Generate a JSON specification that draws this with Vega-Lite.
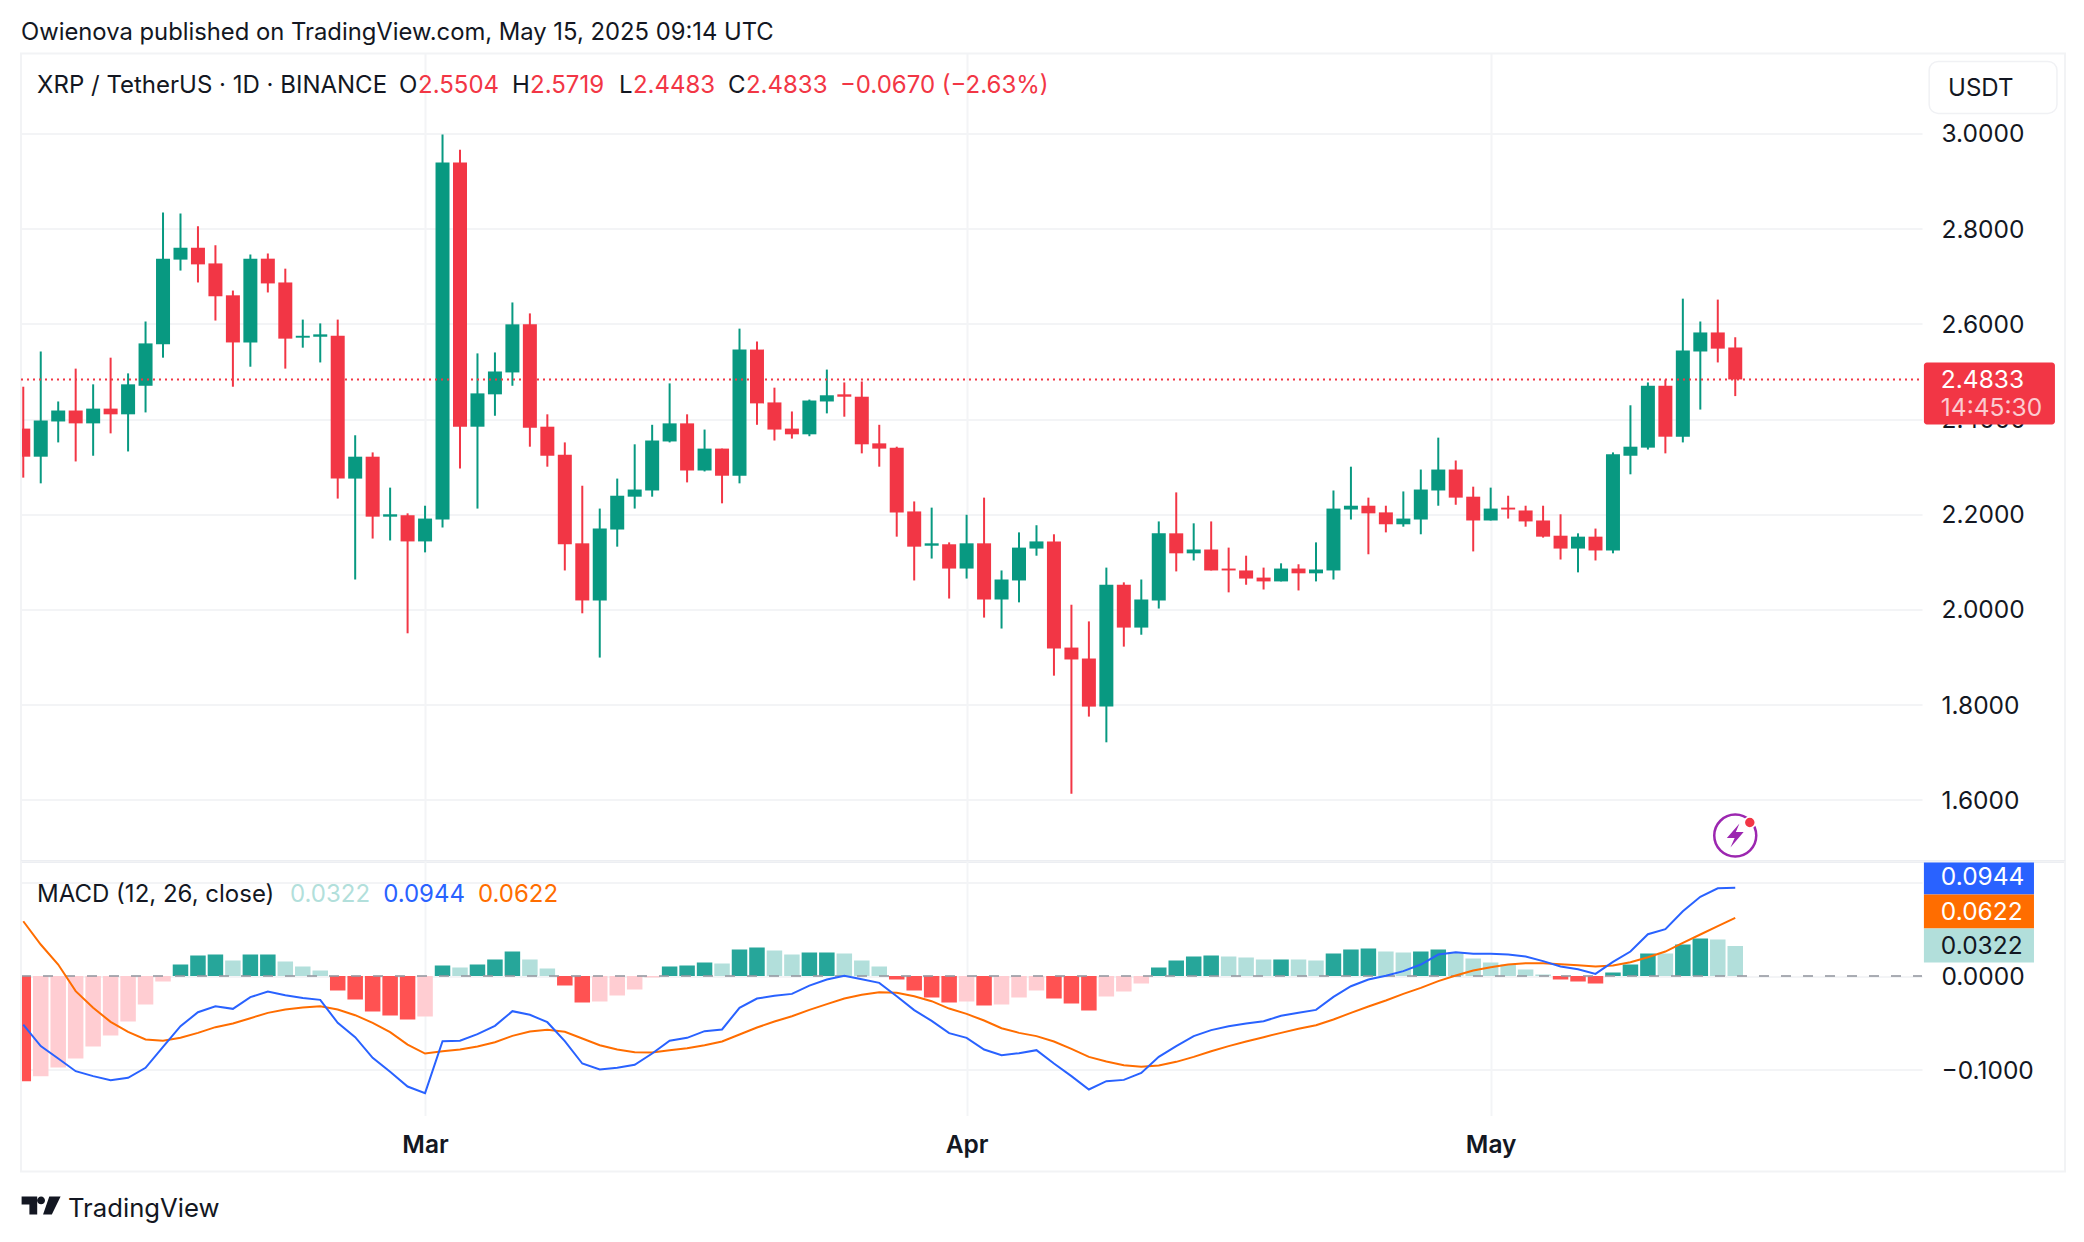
{"$schema":"https://vega.github.io/schema/vega-lite/v6.json","background":"white","padding":{"left":19,"top":20.5,"right":0,"bottom":0},"spacing":0,"bounds":"flush",
"config":{"font":"Inter","view":{"stroke":null},"text":{"align":"left","baseline":"middle","fontSize":24,"dy":1.5,"color":"#131722"}},
"datasets":{"d":[
{"date":"2025-02-06","open":2.380,"high":2.468,"low":2.277,"close":2.321,"macd":-0.0519,"signal":0.0586,"hist":-0.1125,"state":"sn"},
{"date":"2025-02-07","open":2.321,"high":2.542,"low":2.265,"close":2.397,"macd":-0.0750,"signal":0.0337,"hist":-0.1071,"state":"wn"},
{"date":"2025-02-08","open":2.395,"high":2.437,"low":2.351,"close":2.418,"macd":-0.0882,"signal":0.0123,"hist":-0.0979,"state":"wn"},
{"date":"2025-02-09","open":2.418,"high":2.506,"low":2.311,"close":2.391,"macd":-0.1018,"signal":-0.0162,"hist":-0.0882,"state":"wn"},
{"date":"2025-02-10","open":2.391,"high":2.473,"low":2.323,"close":2.422,"macd":-0.1071,"signal":-0.0340,"hist":-0.0754,"state":"wn"},
{"date":"2025-02-11","open":2.422,"high":2.529,"low":2.370,"close":2.410,"macd":-0.1114,"signal":-0.0490,"hist":-0.0636,"state":"wn"},
{"date":"2025-02-12","open":2.410,"high":2.496,"low":2.332,"close":2.473,"macd":-0.1089,"signal":-0.0597,"hist":-0.0487,"state":"wn"},
{"date":"2025-02-13","open":2.470,"high":2.605,"low":2.414,"close":2.559,"macd":-0.0982,"signal":-0.0679,"hist":-0.0305,"state":"wn"},
{"date":"2025-02-14","open":2.557,"high":2.834,"low":2.529,"close":2.737,"macd":-0.0758,"signal":-0.0693,"hist":-0.0059,"state":"wn"},
{"date":"2025-02-15","open":2.735,"high":2.832,"low":2.712,"close":2.760,"macd":-0.0537,"signal":-0.0661,"hist":0.0123,"state":"sp"},
{"date":"2025-02-16","open":2.760,"high":2.805,"low":2.687,"close":2.725,"macd":-0.0387,"signal":-0.0608,"hist":0.0219,"state":"sp"},
{"date":"2025-02-17","open":2.727,"high":2.765,"low":2.607,"close":2.658,"macd":-0.0323,"signal":-0.0547,"hist":0.0230,"state":"sp"},
{"date":"2025-02-18","open":2.660,"high":2.670,"low":2.468,"close":2.561,"macd":-0.0351,"signal":-0.0508,"hist":0.0166,"state":"wp"},
{"date":"2025-02-19","open":2.561,"high":2.746,"low":2.510,"close":2.737,"macd":-0.0226,"signal":-0.0451,"hist":0.0230,"state":"sp"},
{"date":"2025-02-20","open":2.737,"high":2.748,"low":2.666,"close":2.685,"macd":-0.0166,"signal":-0.0394,"hist":0.0230,"state":"sp"},
{"date":"2025-02-21","open":2.687,"high":2.716,"low":2.506,"close":2.569,"macd":-0.0205,"signal":-0.0358,"hist":0.0155,"state":"wp"},
{"date":"2025-02-22","open":2.571,"high":2.609,"low":2.550,"close":2.575,"macd":-0.0234,"signal":-0.0337,"hist":0.0102,"state":"wp"},
{"date":"2025-02-23","open":2.573,"high":2.601,"low":2.519,"close":2.578,"macd":-0.0255,"signal":-0.0323,"hist":0.0059,"state":"wp"},
{"date":"2025-02-24","open":2.575,"high":2.609,"low":2.233,"close":2.275,"macd":-0.0501,"signal":-0.0358,"hist":-0.0155,"state":"sn"},
{"date":"2025-02-25","open":2.275,"high":2.366,"low":2.063,"close":2.321,"macd":-0.0654,"signal":-0.0419,"hist":-0.0251,"state":"sn"},
{"date":"2025-02-26","open":2.321,"high":2.330,"low":2.149,"close":2.195,"macd":-0.0875,"signal":-0.0501,"hist":-0.0380,"state":"sn"},
{"date":"2025-02-27","open":2.195,"high":2.256,"low":2.145,"close":2.200,"macd":-0.1025,"signal":-0.0601,"hist":-0.0422,"state":"sn"},
{"date":"2025-02-28","open":2.198,"high":2.202,"low":1.950,"close":2.143,"macd":-0.1182,"signal":-0.0733,"hist":-0.0465,"state":"sn"},
{"date":"2025-03-01","open":2.143,"high":2.218,"low":2.120,"close":2.191,"macd":-0.1253,"signal":-0.0829,"hist":-0.0433,"state":"wn"},
{"date":"2025-03-02","open":2.189,"high":2.998,"low":2.172,"close":2.939,"macd":-0.0697,"signal":-0.0804,"hist":0.0112,"state":"sp"},
{"date":"2025-03-03","open":2.939,"high":2.966,"low":2.296,"close":2.384,"macd":-0.0693,"signal":-0.0786,"hist":0.0091,"state":"wp"},
{"date":"2025-03-04","open":2.384,"high":2.538,"low":2.212,"close":2.454,"macd":-0.0622,"signal":-0.0754,"hist":0.0123,"state":"sp"},
{"date":"2025-03-05","open":2.452,"high":2.540,"low":2.407,"close":2.500,"macd":-0.0533,"signal":-0.0708,"hist":0.0176,"state":"sp"},
{"date":"2025-03-06","open":2.498,"high":2.645,"low":2.470,"close":2.599,"macd":-0.0376,"signal":-0.0640,"hist":0.0262,"state":"sp"},
{"date":"2025-03-07","open":2.599,"high":2.622,"low":2.342,"close":2.382,"macd":-0.0415,"signal":-0.0594,"hist":0.0176,"state":"wp"},
{"date":"2025-03-08","open":2.384,"high":2.410,"low":2.300,"close":2.323,"macd":-0.0494,"signal":-0.0576,"hist":0.0080,"state":"wp"},
{"date":"2025-03-09","open":2.325,"high":2.351,"low":2.082,"close":2.137,"macd":-0.0697,"signal":-0.0597,"hist":-0.0102,"state":"sn"},
{"date":"2025-03-10","open":2.139,"high":2.260,"low":1.992,"close":2.019,"macd":-0.0936,"signal":-0.0668,"hist":-0.0283,"state":"sn"},
{"date":"2025-03-11","open":2.019,"high":2.212,"low":1.899,"close":2.170,"macd":-0.1000,"signal":-0.0740,"hist":-0.0273,"state":"wn"},
{"date":"2025-03-12","open":2.168,"high":2.275,"low":2.132,"close":2.239,"macd":-0.0982,"signal":-0.0786,"hist":-0.0209,"state":"wn"},
{"date":"2025-03-13","open":2.237,"high":2.347,"low":2.212,"close":2.252,"macd":-0.0950,"signal":-0.0815,"hist":-0.0144,"state":"wn"},
{"date":"2025-03-14","open":2.250,"high":2.388,"low":2.237,"close":2.355,"macd":-0.0829,"signal":-0.0818,"hist":-0.0016,"state":"wn"},
{"date":"2025-03-15","open":2.353,"high":2.475,"low":2.351,"close":2.391,"macd":-0.0693,"signal":-0.0793,"hist":0.0102,"state":"sp"},
{"date":"2025-03-16","open":2.391,"high":2.410,"low":2.267,"close":2.292,"macd":-0.0661,"signal":-0.0772,"hist":0.0112,"state":"sp"},
{"date":"2025-03-17","open":2.292,"high":2.378,"low":2.290,"close":2.338,"macd":-0.0590,"signal":-0.0740,"hist":0.0144,"state":"sp"},
{"date":"2025-03-18","open":2.338,"high":2.338,"low":2.223,"close":2.281,"macd":-0.0572,"signal":-0.0701,"hist":0.0134,"state":"wp"},
{"date":"2025-03-19","open":2.281,"high":2.590,"low":2.265,"close":2.546,"macd":-0.0340,"signal":-0.0626,"hist":0.0283,"state":"sp"},
{"date":"2025-03-20","open":2.546,"high":2.563,"low":2.388,"close":2.433,"macd":-0.0241,"signal":-0.0551,"hist":0.0305,"state":"sp"},
{"date":"2025-03-21","open":2.435,"high":2.466,"low":2.355,"close":2.378,"macd":-0.0212,"signal":-0.0487,"hist":0.0273,"state":"wp"},
{"date":"2025-03-22","open":2.380,"high":2.416,"low":2.359,"close":2.368,"macd":-0.0191,"signal":-0.0430,"hist":0.0230,"state":"wp"},
{"date":"2025-03-23","open":2.368,"high":2.441,"low":2.364,"close":2.439,"macd":-0.0102,"signal":-0.0362,"hist":0.0251,"state":"sp"},
{"date":"2025-03-24","open":2.437,"high":2.504,"low":2.412,"close":2.450,"macd":-0.0037,"signal":-0.0301,"hist":0.0251,"state":"sp"},
{"date":"2025-03-25","open":2.452,"high":2.477,"low":2.405,"close":2.447,"macd":0.0002,"signal":-0.0241,"hist":0.0241,"state":"wp"},
{"date":"2025-03-26","open":2.447,"high":2.479,"low":2.328,"close":2.347,"macd":-0.0034,"signal":-0.0201,"hist":0.0166,"state":"wp"},
{"date":"2025-03-27","open":2.349,"high":2.388,"low":2.300,"close":2.338,"macd":-0.0073,"signal":-0.0173,"hist":0.0102,"state":"wp"},
{"date":"2025-03-28","open":2.340,"high":2.342,"low":2.153,"close":2.204,"macd":-0.0216,"signal":-0.0180,"hist":-0.0037,"state":"sn"},
{"date":"2025-03-29","open":2.206,"high":2.227,"low":2.061,"close":2.132,"macd":-0.0365,"signal":-0.0216,"hist":-0.0155,"state":"sn"},
{"date":"2025-03-30","open":2.134,"high":2.214,"low":2.107,"close":2.139,"macd":-0.0480,"signal":-0.0269,"hist":-0.0230,"state":"sn"},
{"date":"2025-03-31","open":2.137,"high":2.141,"low":2.023,"close":2.086,"macd":-0.0611,"signal":-0.0348,"hist":-0.0283,"state":"sn"},
{"date":"2025-04-01","open":2.086,"high":2.199,"low":2.065,"close":2.139,"macd":-0.0661,"signal":-0.0405,"hist":-0.0273,"state":"wn"},
{"date":"2025-04-02","open":2.139,"high":2.235,"low":1.983,"close":2.021,"macd":-0.0786,"signal":-0.0476,"hist":-0.0316,"state":"sn"},
{"date":"2025-04-03","open":2.021,"high":2.082,"low":1.960,"close":2.063,"macd":-0.0847,"signal":-0.0558,"hist":-0.0305,"state":"wn"},
{"date":"2025-04-04","open":2.061,"high":2.162,"low":2.015,"close":2.130,"macd":-0.0825,"signal":-0.0608,"hist":-0.0230,"state":"wn"},
{"date":"2025-04-05","open":2.128,"high":2.177,"low":2.113,"close":2.143,"macd":-0.0793,"signal":-0.0643,"hist":-0.0155,"state":"wn"},
{"date":"2025-04-06","open":2.143,"high":2.158,"low":1.861,"close":1.918,"macd":-0.0936,"signal":-0.0701,"hist":-0.0241,"state":"sn"},
{"date":"2025-04-07","open":1.920,"high":2.010,"low":1.613,"close":1.895,"macd":-0.1071,"signal":-0.0779,"hist":-0.0294,"state":"sn"},
{"date":"2025-04-08","open":1.897,"high":1.975,"low":1.775,"close":1.796,"macd":-0.1214,"signal":-0.0865,"hist":-0.0369,"state":"sn"},
{"date":"2025-04-09","open":1.796,"high":2.088,"low":1.721,"close":2.052,"macd":-0.1125,"signal":-0.0914,"hist":-0.0219,"state":"wn"},
{"date":"2025-04-10","open":2.052,"high":2.057,"low":1.922,"close":1.962,"macd":-0.1111,"signal":-0.0954,"hist":-0.0166,"state":"wn"},
{"date":"2025-04-11","open":1.962,"high":2.063,"low":1.947,"close":2.021,"macd":-0.1036,"signal":-0.0971,"hist":-0.0080,"state":"wn"},
{"date":"2025-04-12","open":2.019,"high":2.185,"low":2.002,"close":2.160,"macd":-0.0865,"signal":-0.0957,"hist":0.0091,"state":"sp"},
{"date":"2025-04-13","open":2.160,"high":2.246,"low":2.080,"close":2.118,"macd":-0.0750,"signal":-0.0918,"hist":0.0166,"state":"sp"},
{"date":"2025-04-14","open":2.118,"high":2.181,"low":2.103,"close":2.126,"macd":-0.0643,"signal":-0.0865,"hist":0.0209,"state":"sp"},
{"date":"2025-04-15","open":2.126,"high":2.185,"low":2.082,"close":2.082,"macd":-0.0579,"signal":-0.0804,"hist":0.0219,"state":"sp"},
{"date":"2025-04-16","open":2.086,"high":2.130,"low":2.036,"close":2.082,"macd":-0.0537,"signal":-0.0750,"hist":0.0209,"state":"wp"},
{"date":"2025-04-17","open":2.082,"high":2.113,"low":2.052,"close":2.065,"macd":-0.0508,"signal":-0.0701,"hist":0.0198,"state":"wp"},
{"date":"2025-04-18","open":2.067,"high":2.088,"low":2.042,"close":2.059,"macd":-0.0483,"signal":-0.0654,"hist":0.0176,"state":"wp"},
{"date":"2025-04-19","open":2.059,"high":2.097,"low":2.059,"close":2.086,"macd":-0.0426,"signal":-0.0608,"hist":0.0176,"state":"sp"},
{"date":"2025-04-20","open":2.086,"high":2.095,"low":2.040,"close":2.076,"macd":-0.0394,"signal":-0.0565,"hist":0.0176,"state":"wp"},
{"date":"2025-04-21","open":2.076,"high":2.141,"low":2.059,"close":2.084,"macd":-0.0362,"signal":-0.0526,"hist":0.0166,"state":"wp"},
{"date":"2025-04-22","open":2.082,"high":2.250,"low":2.063,"close":2.212,"macd":-0.0223,"signal":-0.0465,"hist":0.0241,"state":"sp"},
{"date":"2025-04-23","open":2.210,"high":2.300,"low":2.189,"close":2.218,"macd":-0.0109,"signal":-0.0394,"hist":0.0283,"state":"sp"},
{"date":"2025-04-24","open":2.218,"high":2.235,"low":2.116,"close":2.202,"macd":-0.0037,"signal":-0.0326,"hist":0.0294,"state":"sp"},
{"date":"2025-04-25","open":2.204,"high":2.218,"low":2.162,"close":2.179,"macd":0.0002,"signal":-0.0262,"hist":0.0262,"state":"wp"},
{"date":"2025-04-26","open":2.179,"high":2.248,"low":2.174,"close":2.191,"macd":0.0052,"signal":-0.0191,"hist":0.0251,"state":"wp"},
{"date":"2025-04-27","open":2.189,"high":2.294,"low":2.158,"close":2.252,"macd":0.0123,"signal":-0.0127,"hist":0.0262,"state":"sp"},
{"date":"2025-04-28","open":2.250,"high":2.361,"low":2.218,"close":2.294,"macd":0.0230,"signal":-0.0055,"hist":0.0283,"state":"sp"},
{"date":"2025-04-29","open":2.294,"high":2.313,"low":2.220,"close":2.235,"macd":0.0255,"signal":0.0005,"hist":0.0258,"state":"wp"},
{"date":"2025-04-30","open":2.237,"high":2.258,"low":2.122,"close":2.187,"macd":0.0237,"signal":0.0059,"hist":0.0187,"state":"wp"},
{"date":"2025-05-01","open":2.187,"high":2.256,"low":2.187,"close":2.212,"macd":0.0237,"signal":0.0094,"hist":0.0144,"state":"wp"},
{"date":"2025-05-02","open":2.214,"high":2.239,"low":2.191,"close":2.210,"macd":0.0230,"signal":0.0123,"hist":0.0123,"state":"wp"},
{"date":"2025-05-03","open":2.208,"high":2.218,"low":2.174,"close":2.185,"macd":0.0209,"signal":0.0137,"hist":0.0070,"state":"wp"},
{"date":"2025-05-04","open":2.187,"high":2.218,"low":2.151,"close":2.153,"macd":0.0159,"signal":0.0137,"hist":0.0016,"state":"wp"},
{"date":"2025-05-05","open":2.155,"high":2.200,"low":2.105,"close":2.128,"macd":0.0102,"signal":0.0127,"hist":-0.0037,"state":"sn"},
{"date":"2025-05-06","open":2.128,"high":2.160,"low":2.078,"close":2.153,"macd":0.0073,"signal":0.0116,"hist":-0.0059,"state":"sn"},
{"date":"2025-05-07","open":2.153,"high":2.170,"low":2.103,"close":2.124,"macd":0.0023,"signal":0.0102,"hist":-0.0080,"state":"sn"},
{"date":"2025-05-08","open":2.124,"high":2.330,"low":2.118,"close":2.326,"macd":0.0152,"signal":0.0112,"hist":0.0037,"state":"sp"},
{"date":"2025-05-09","open":2.323,"high":2.429,"low":2.284,"close":2.342,"macd":0.0262,"signal":0.0148,"hist":0.0123,"state":"sp"},
{"date":"2025-05-10","open":2.340,"high":2.477,"low":2.336,"close":2.470,"macd":0.0447,"signal":0.0201,"hist":0.0241,"state":"sp"},
{"date":"2025-05-11","open":2.470,"high":2.483,"low":2.328,"close":2.363,"macd":0.0501,"signal":0.0262,"hist":0.0241,"state":"wp"},
{"date":"2025-05-12","open":2.363,"high":2.653,"low":2.351,"close":2.544,"macd":0.0693,"signal":0.0355,"hist":0.0337,"state":"sp"},
{"date":"2025-05-13","open":2.542,"high":2.605,"low":2.420,"close":2.582,"macd":0.0847,"signal":0.0444,"hist":0.0401,"state":"sp"},
{"date":"2025-05-14","open":2.582,"high":2.651,"low":2.519,"close":2.548,"macd":0.0939,"signal":0.0533,"hist":0.0390,"state":"wp"},
{"date":"2025-05-15","open":2.5504,"high":2.5719,"low":2.4483,"close":2.4833,"macd":0.0944,"signal":0.0622,"hist":0.0322,"state":"wp"}
]},
"vconcat":[
{"width":1901,"height":808,"data":{"name":"d"},"layer":[
{"mark":{"type":"rule","strokeWidth":2,"clip":true},
 "encoding":{"x":{"field":"date","type":"temporal","scale":{"type":"utc","padding":0,"domain":[{"year":2025,"month":2,"date":5,"hours":20,"minutes":53,"utc":true},{"year":2025,"month":5,"date":25,"hours":16,"minutes":34,"utc":true}]},"axis":{"labels":false,"ticks":false,"domain":false,"grid":true,"gridColor":"#F3F4F6","gridWidth":2,"values":[{"year":2025,"month":3,"date":1,"utc":true},{"year":2025,"month":4,"date":1,"utc":true},{"year":2025,"month":5,"date":1,"utc":true}],"title":null}},
 "y":{"field":"low","type":"quantitative","scale":{"domain":[1.4706,3.168],"nice":false,"zero":false},"axis":{"orient":"right","values":[1.6,1.8,2.0,2.2,2.4,2.6,2.8,3.0],"format":".4f","labelFontSize":24.5,"labelOffset":1.5,"labelColor":"#131722","labelPadding":19,"ticks":false,"domain":false,"grid":true,"gridColor":"#F3F4F6","gridWidth":2,"title":null}},
 "y2":{"field":"high"},
 "color":{"condition":{"test":"datum.close>=datum.open","value":"#089981"},"value":"#F23645"}}},
{"mark":{"type":"bar","size":14,"clip":true},
 "encoding":{"x":{"field":"date","type":"temporal"},"y":{"field":"open","type":"quantitative"},"y2":{"field":"close"},
 "color":{"condition":{"test":"datum.close>=datum.open","value":"#089981"},"value":"#F23645"}}},
{"data":{"values":[{"frame":"price"}]},"mark":{"type":"rect","fill":"transparent","stroke":"#F2F3F5","strokeWidth":2},"encoding":{"x":{"datum":{"year":2025,"month":2,"date":5,"hours":20,"minutes":53,"utc":true},"type":"temporal"},"x2":{"datum":{"year":2025,"month":6,"date":2,"hours":21,"minutes":7,"utc":true}},"y":{"datum":3.168,"type":"quantitative"},"y2":{"datum":1.4706}}},
{"data":{"values":[{"line":"separator"}]},"mark":{"type":"rule","stroke":"#E0E3EB","strokeWidth":2.5},"encoding":{"x":{"datum":{"year":2025,"month":2,"date":5,"hours":20,"minutes":53,"utc":true},"type":"temporal"},"x2":{"datum":{"year":2025,"month":6,"date":2,"hours":21,"minutes":7,"utc":true}},"y":{"datum":1.4706,"type":"quantitative"}}},
{"data":{"values":[{"line":"last"}]},"mark":{"type":"rule","stroke":"#F23645","strokeWidth":2,"strokeDash":[2,4]},"encoding":{"x":{"datum":{"year":2025,"month":2,"date":5,"hours":20,"minutes":53,"utc":true},"type":"temporal"},"x2":{"datum":{"year":2025,"month":5,"date":25,"hours":16,"minutes":34,"utc":true}},"y":{"datum":2.4833,"type":"quantitative"}}},
{"data":{"values":[{"box":"last"}]},"mark":{"type":"rect","fill":"#F23645","cornerRadius":3},"encoding":{"x":{"datum":{"year":2025,"month":5,"date":25,"hours":19,"minutes":12,"utc":true},"type":"temporal"},"x2":{"datum":{"year":2025,"month":6,"date":2,"hours":7,"minutes":12,"utc":true}},"y":{"datum":2.519,"type":"quantitative"},"y2":{"datum":2.3886}}},
{"data":{"values":[{"box":"usdt"}]},"mark":{"type":"rect","fill":"white","stroke":"#F0F1F4","strokeWidth":1.5,"cornerRadius":9},"encoding":{"x":{"datum":{"year":2025,"month":5,"date":26,"hours":2,"minutes":24,"utc":true},"type":"temporal"},"x2":{"datum":{"year":2025,"month":6,"date":2,"hours":10,"utc":true}},"y":{"datum":3.1513,"type":"quantitative"},"y2":{"datum":3.042}}},
{"data":{"values":[{"icon":"ring"}]},"mark":{"type":"point","shape":"circle","size":1764,"filled":false,"stroke":"#9C27B0","strokeWidth":2.5,"opacity":1},"encoding":{"x":{"datum":{"year":2025,"month":5,"date":15,"utc":true},"type":"temporal"},"y":{"datum":1.525,"type":"quantitative"}}},
{"data":{"values":[{"icon":"bolt"}]},"mark":{"type":"point","shape":"M0.35,-1 L-0.7,0.2 L-0.05,0.2 L-0.4,1 L0.7,-0.3 L0.05,-0.3 Z","size":576,"filled":true,"fill":"#9C27B0","opacity":1},"encoding":{"x":{"datum":{"year":2025,"month":5,"date":15,"utc":true},"type":"temporal"},"y":{"datum":1.525,"type":"quantitative"}}},
{"data":{"values":[{"icon":"dot"}]},"mark":{"type":"point","shape":"circle","size":120,"filled":true,"fill":"#F23645","stroke":"white","strokeWidth":1.5,"opacity":1},"encoding":{"x":{"datum":{"year":2025,"month":5,"date":15,"hours":20,"utc":true},"type":"temporal"},"y":{"datum":1.5525,"type":"quantitative"}}},
{"data":{"values":[{"t":"Owienova published on TradingView.com, May 15, 2025 09:14 UTC"}]},"mark":{"type":"text","fontSize":23.8},"encoding":{"x":{"datum":{"year":2025,"month":2,"date":5,"hours":20,"minutes":53,"utc":true},"type":"temporal"},"y":{"datum":3.2143,"type":"quantitative"},"text":{"field":"t"}}},
{"data":{"values":[{"t":"XRP / TetherUS · 1D · BINANCE"}]},"mark":{"type":"text"},"encoding":{"x":{"datum":{"year":2025,"month":2,"date":6,"hours":19,"utc":true},"type":"temporal"},"y":{"datum":3.1029,"type":"quantitative"},"text":{"field":"t"}}},
{"data":{"values":[{"t":"O"}]},"mark":{"type":"text"},"encoding":{"x":{"datum":{"year":2025,"month":2,"date":27,"hours":12,"minutes":15,"utc":true},"type":"temporal"},"y":{"datum":3.1029,"type":"quantitative"},"text":{"field":"t"}}},
{"data":{"values":[{"t":"2.5504"}]},"mark":{"type":"text","color":"#F23645"},"encoding":{"x":{"datum":{"year":2025,"month":2,"date":28,"hours":14,"minutes":24,"utc":true},"type":"temporal"},"y":{"datum":3.1029,"type":"quantitative"},"text":{"field":"t"}}},
{"data":{"values":[{"t":"H"}]},"mark":{"type":"text"},"encoding":{"x":{"datum":{"year":2025,"month":3,"date":5,"hours":23,"minutes":30,"utc":true},"type":"temporal"},"y":{"datum":3.1029,"type":"quantitative"},"text":{"field":"t"}}},
{"data":{"values":[{"t":"2.5719"}]},"mark":{"type":"text","color":"#F23645"},"encoding":{"x":{"datum":{"year":2025,"month":3,"date":7,"hours":0,"minutes":15,"utc":true},"type":"temporal"},"y":{"datum":3.1029,"type":"quantitative"},"text":{"field":"t"}}},
{"data":{"values":[{"t":"L"}]},"mark":{"type":"text"},"encoding":{"x":{"datum":{"year":2025,"month":3,"date":12,"hours":2,"minutes":24,"utc":true},"type":"temporal"},"y":{"datum":3.1029,"type":"quantitative"},"text":{"field":"t"}}},
{"data":{"values":[{"t":"2.4483"}]},"mark":{"type":"text","color":"#F23645"},"encoding":{"x":{"datum":{"year":2025,"month":3,"date":12,"hours":21,"minutes":36,"utc":true},"type":"temporal"},"y":{"datum":3.1029,"type":"quantitative"},"text":{"field":"t"}}},
{"data":{"values":[{"t":"C"}]},"mark":{"type":"text"},"encoding":{"x":{"datum":{"year":2025,"month":3,"date":18,"hours":8,"minutes":9,"utc":true},"type":"temporal"},"y":{"datum":3.1029,"type":"quantitative"},"text":{"field":"t"}}},
{"data":{"values":[{"t":"2.4833"}]},"mark":{"type":"text","color":"#F23645"},"encoding":{"x":{"datum":{"year":2025,"month":3,"date":19,"hours":8,"minutes":53,"utc":true},"type":"temporal"},"y":{"datum":3.1029,"type":"quantitative"},"text":{"field":"t"}}},
{"data":{"values":[{"t":"−0.0670 (−2.63%)"}]},"mark":{"type":"text","color":"#F23645"},"encoding":{"x":{"datum":{"year":2025,"month":3,"date":24,"hours":18,"utc":true},"type":"temporal"},"y":{"datum":3.1029,"type":"quantitative"},"text":{"field":"t"}}},
{"data":{"values":[{"t":"USDT"}]},"mark":{"type":"text"},"encoding":{"x":{"datum":{"year":2025,"month":5,"date":27,"hours":4,"minutes":19,"utc":true},"type":"temporal"},"y":{"datum":3.0966,"type":"quantitative"},"text":{"field":"t"}}},
{"data":{"values":[{"t":"2.4833"}]},"mark":{"type":"text","color":"white","fontSize":24.5},"encoding":{"x":{"datum":{"year":2025,"month":5,"date":26,"hours":18,"minutes":29,"utc":true},"type":"temporal"},"y":{"datum":2.4833,"type":"quantitative"},"text":{"field":"t"}}},
{"data":{"values":[{"t":"14:45:30"}]},"mark":{"type":"text","color":"#FBCBD0","fontSize":24.5},"encoding":{"x":{"datum":{"year":2025,"month":5,"date":26,"hours":18,"minutes":29,"utc":true},"type":"temporal"},"y":{"datum":2.424,"type":"quantitative"},"text":{"field":"t"}}}
]},
{"width":1901,"height":254,"data":{"name":"d"},"layer":[
{"mark":{"type":"bar","size":15.5,"clip":true},
 "encoding":{"x":{"field":"date","type":"temporal","scale":{"type":"utc","padding":0,"domain":[{"year":2025,"month":2,"date":5,"hours":20,"minutes":53,"utc":true},{"year":2025,"month":5,"date":25,"hours":16,"minutes":34,"utc":true}]},"axis":{"labelFontSize":24.5,"labelFontWeight":600,"labelColor":"#131722","labelPadding":18,"ticks":false,"domain":false,"grid":true,"gridColor":"#F3F4F6","gridWidth":2,"values":[{"year":2025,"month":3,"date":1,"utc":true},{"year":2025,"month":4,"date":1,"utc":true},{"year":2025,"month":5,"date":1,"utc":true}],"format":"%b","title":null}},
 "y":{"field":"hist","type":"quantitative","scale":{"domain":[-0.1492,0.1225],"nice":false,"zero":false},"axis":{"orient":"right","values":[-0.1,0,0.1],"format":".4f","labelFontSize":24.5,"labelOffset":1.5,"labelColor":"#131722","labelPadding":19,"ticks":false,"domain":false,"grid":true,"gridColor":"#F3F4F6","gridWidth":2,"title":null}},
 "color":{"field":"state","type":"nominal","legend":null,"scale":{"domain":["sp","wp","sn","wn"],"range":["#26A69A","#B2DFDB","#FF5252","#FFCDD2"]}}}},
{"data":{"values":[{"line":"zero"}]},"mark":{"type":"rule","stroke":"#9598A1","strokeWidth":2,"strokeDash":[10,12],"opacity":0.8},"encoding":{"x":{"datum":{"year":2025,"month":2,"date":5,"hours":20,"minutes":53,"utc":true},"type":"temporal"},"x2":{"datum":{"year":2025,"month":5,"date":25,"hours":16,"minutes":34,"utc":true}},"y":{"datum":0,"type":"quantitative"}}},
{"mark":{"type":"line","stroke":"#FF6D00","strokeWidth":2,"clip":true},"encoding":{"x":{"field":"date","type":"temporal"},"y":{"field":"signal","type":"quantitative"}}},
{"mark":{"type":"line","stroke":"#2962FF","strokeWidth":2,"clip":true},"encoding":{"x":{"field":"date","type":"temporal"},"y":{"field":"macd","type":"quantitative"}}},
{"data":{"values":[{"frame":"macd"}]},"mark":{"type":"rect","fill":"transparent","stroke":"#F2F3F5","strokeWidth":2},"encoding":{"x":{"datum":{"year":2025,"month":2,"date":5,"hours":20,"minutes":53,"utc":true},"type":"temporal"},"x2":{"datum":{"year":2025,"month":6,"date":2,"hours":21,"minutes":7,"utc":true}},"y":{"datum":0.1225,"type":"quantitative"},"y2":{"datum":-0.2091}}},
{"data":{"values":[{"box":"macd"}]},"mark":{"type":"rect","fill":"#2962FF"},"encoding":{"x":{"datum":{"year":2025,"month":5,"date":25,"hours":19,"minutes":12,"utc":true},"type":"temporal"},"x2":{"datum":{"year":2025,"month":6,"date":1,"hours":2,"minutes":24,"utc":true}},"y":{"datum":0.1214,"type":"quantitative"},"y2":{"datum":0.0872}}},
{"data":{"values":[{"box":"signal"}]},"mark":{"type":"rect","fill":"#FF6D00"},"encoding":{"x":{"datum":{"year":2025,"month":5,"date":25,"hours":19,"minutes":12,"utc":true},"type":"temporal"},"x2":{"datum":{"year":2025,"month":6,"date":1,"hours":2,"minutes":24,"utc":true}},"y":{"datum":0.0872,"type":"quantitative"},"y2":{"datum":0.0508}}},
{"data":{"values":[{"box":"hist"}]},"mark":{"type":"rect","fill":"#B2DFDB"},"encoding":{"x":{"datum":{"year":2025,"month":5,"date":25,"hours":19,"minutes":12,"utc":true},"type":"temporal"},"x2":{"datum":{"year":2025,"month":6,"date":1,"hours":2,"minutes":24,"utc":true}},"y":{"datum":0.0508,"type":"quantitative"},"y2":{"datum":0.0144}}},
{"data":{"values":[{"t":"0.0944"}]},"mark":{"type":"text","color":"white","fontSize":24.5},"encoding":{"x":{"datum":{"year":2025,"month":5,"date":26,"hours":18,"minutes":29,"utc":true},"type":"temporal"},"y":{"datum":0.1064,"type":"quantitative"},"text":{"field":"t"}}},
{"data":{"values":[{"t":"0.0622"}]},"mark":{"type":"text","color":"white","fontSize":24.5},"encoding":{"x":{"datum":{"year":2025,"month":5,"date":26,"hours":18,"minutes":29,"utc":true},"type":"temporal"},"y":{"datum":0.069,"type":"quantitative"},"text":{"field":"t"}}},
{"data":{"values":[{"t":"0.0322"}]},"mark":{"type":"text","color":"#131722","fontSize":24.5},"encoding":{"x":{"datum":{"year":2025,"month":5,"date":26,"hours":18,"minutes":29,"utc":true},"type":"temporal"},"y":{"datum":0.0326,"type":"quantitative"},"text":{"field":"t"}}},
{"data":{"values":[{"t":"MACD (12, 26, close)"}]},"mark":{"type":"text"},"encoding":{"x":{"datum":{"year":2025,"month":2,"date":6,"hours":19,"utc":true},"type":"temporal"},"y":{"datum":0.0882,"type":"quantitative"},"text":{"field":"t"}}},
{"data":{"values":[{"t":"0.0322"}]},"mark":{"type":"text","color":"#B2DFDB"},"encoding":{"x":{"datum":{"year":2025,"month":2,"date":21,"hours":6,"minutes":29,"utc":true},"type":"temporal"},"y":{"datum":0.0882,"type":"quantitative"},"text":{"field":"t"}}},
{"data":{"values":[{"t":"0.0944"}]},"mark":{"type":"text","color":"#2962FF"},"encoding":{"x":{"datum":{"year":2025,"month":2,"date":26,"hours":14,"minutes":24,"utc":true},"type":"temporal"},"y":{"datum":0.0882,"type":"quantitative"},"text":{"field":"t"}}},
{"data":{"values":[{"t":"0.0622"}]},"mark":{"type":"text","color":"#FF6D00"},"encoding":{"x":{"datum":{"year":2025,"month":3,"date":4,"hours":0,"minutes":43,"utc":true},"type":"temporal"},"y":{"datum":0.0882,"type":"quantitative"},"text":{"field":"t"}}},
{"data":{"values":[{"t":"TradingView"}]},"mark":{"type":"text","fontSize":25.7},"encoding":{"x":{"datum":{"year":2025,"month":2,"date":8,"hours":13,"minutes":26,"utc":true},"type":"temporal"},"y":{"datum":-0.2476,"type":"quantitative"},"text":{"field":"t"}}},
{"data":{"values":[{"icon":"logo"}]},"mark":{"type":"point","shape":"M-1,-0.46 L-0.2,-0.46 L-0.2,0.46 L-0.6,0.46 L-0.6,-0.05 L-1,-0.05 Z M0,-0.46 A0.2,0.2 0 1 1 0,-0.06 A0.2,0.2 0 1 1 0,-0.46 Z M0.42,-0.46 L1,-0.46 L0.55,0.46 L0.1,0.46 Z","size":1521,"filled":true,"fill":"#131722","opacity":1},"encoding":{"x":{"datum":{"year":2025,"month":2,"date":7,"hours":0,"minutes":30,"utc":true},"type":"temporal"},"y":{"datum":-0.2455,"type":"quantitative"}}}
]}
]}
